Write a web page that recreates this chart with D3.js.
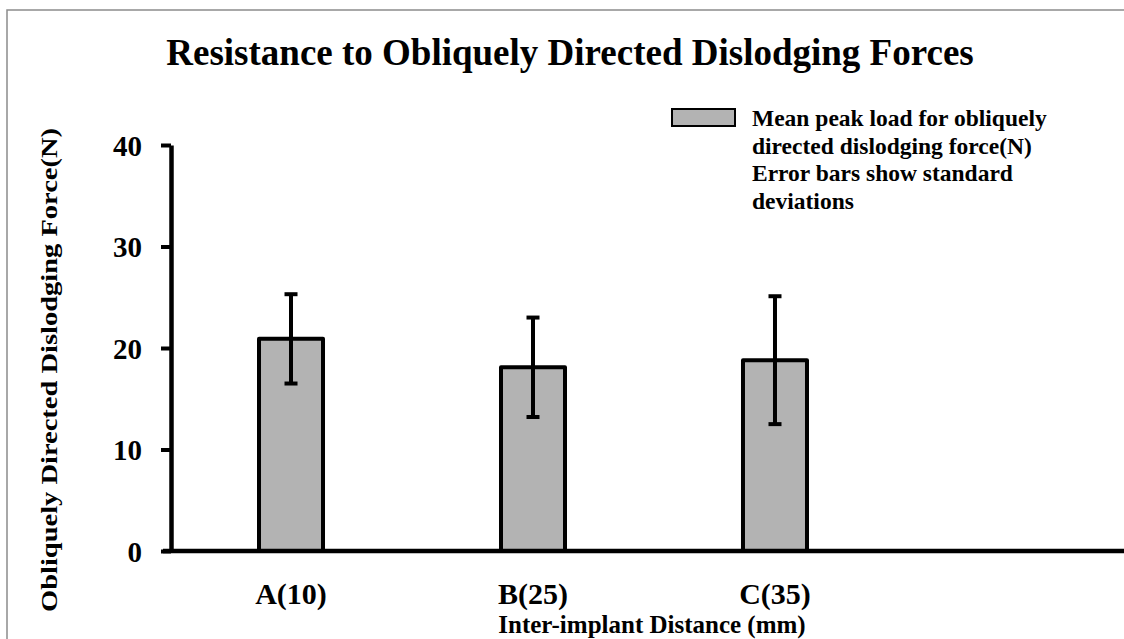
<!DOCTYPE html>
<html>
<head>
<meta charset="utf-8">
<script src="https://cdn.jsdelivr.net/npm/d3@7"></script>
<style>
  html, body { margin: 0; padding: 0; background: #fff; }
  svg { display: block; }
  text { font-family: "Liberation Serif", "Times New Roman", serif; font-weight: bold; fill: #000; }
</style>
</head>
<body>
<svg id="chart" width="1124" height="639"></svg>
<script>
const categories = ["A(10)", "B(25)", "C(35)"];
const means = [20.9, 18.1, 18.8];
const sds = [4.4, 4.9, 6.3];
const yTicks = [0, 10, 20, 30, 40];
const titleText = "Resistance to Obliquely Directed Dislodging Forces";
const xTitle = "Inter-implant Distance (mm)";
const yTitle = "Obliquely Directed Dislodging Force(N)";
const legendLines = ["Mean peak load for obliquely", "directed dislodging force(N)", "Error bars show standard", "deviations"];

const svg = d3.select("#chart");
const W = 1124, H = 639;

// border
svg.append("rect").attr("x", 7).attr("y", 10).attr("width", 1140).attr("height", 660)
  .attr("fill", "none").attr("stroke", "#8c8c8c").attr("stroke-width", 1.5);

const y = d3.scaleLinear().domain([0, 40]).range([551, 145]);
const x = d3.scaleBand().domain(categories).range([170, 896]).paddingInner(0.7355).paddingOuter(0.3678);

// title
svg.append("text").attr("x", 570).attr("y", 65).attr("text-anchor", "middle")
  .style("font-size", "37px").text(titleText);

// y axis
const yAxis = d3.axisLeft(y).tickValues(yTicks).tickSize(10).tickSizeOuter(0).tickPadding(19).tickFormat(d3.format("d"));
const gy = svg.append("g").attr("transform", "translate(171,0)").call(yAxis);
gy.select(".domain").attr("stroke", "#000").attr("stroke-width", 4.5);
gy.selectAll(".tick line").attr("stroke", "#000").attr("stroke-width", 4);
gy.selectAll(".tick text").style("font-size", "29px").style("font-family", "Liberation Serif, serif").style("font-weight", "bold").attr("dy", "0.36em");

// bars
svg.append("g").selectAll("rect").data(categories).join("rect")
  .attr("x", d => x(d)).attr("y", (d, i) => y(means[i]))
  .attr("width", x.bandwidth()).attr("height", (d, i) => y(0) - y(means[i]))
  .attr("fill", "#b3b3b3").attr("stroke", "#000").attr("stroke-width", 4).attr("stroke-linejoin", "round");

// x axis line
svg.append("line").attr("x1", 163).attr("x2", W + 5).attr("y1", y(0)).attr("y2", y(0))
  .attr("stroke", "#000").attr("stroke-width", 4.5);

// error bars
const eb = svg.append("g").selectAll("g").data(categories).join("g");
eb.append("line")
  .attr("x1", d => x(d) + x.bandwidth() / 2).attr("x2", d => x(d) + x.bandwidth() / 2)
  .attr("y1", (d, i) => y(means[i] + sds[i])).attr("y2", (d, i) => y(means[i] - sds[i]))
  .attr("stroke", "#000").attr("stroke-width", 4);
eb.append("line")
  .attr("x1", d => x(d) + x.bandwidth() / 2 - 6.5).attr("x2", d => x(d) + x.bandwidth() / 2 + 6.5)
  .attr("y1", (d, i) => y(means[i] + sds[i])).attr("y2", (d, i) => y(means[i] + sds[i]))
  .attr("stroke", "#000").attr("stroke-width", 4);
eb.append("line")
  .attr("x1", d => x(d) + x.bandwidth() / 2 - 6.5).attr("x2", d => x(d) + x.bandwidth() / 2 + 6.5)
  .attr("y1", (d, i) => y(means[i] - sds[i])).attr("y2", (d, i) => y(means[i] - sds[i]))
  .attr("stroke", "#000").attr("stroke-width", 4);

// x labels
svg.append("g").selectAll("text").data(categories).join("text")
  .attr("x", d => x(d) + x.bandwidth() / 2).attr("y", 604).attr("text-anchor", "middle")
  .style("font-size", "30px").text(d => d);

// x title
svg.append("text").attr("x", 652).attr("y", 633).attr("text-anchor", "middle")
  .style("font-size", "25px").text(xTitle);

// y title
svg.append("text").attr("transform", "translate(57,370) rotate(-90)").attr("text-anchor", "middle")
  .style("font-size", "24px").attr("textLength", 484).attr("lengthAdjust", "spacingAndGlyphs").text(yTitle);

// legend
svg.append("rect").attr("x", 672).attr("y", 109).attr("width", 63).attr("height", 17)
  .attr("fill", "#b3b3b3").attr("stroke", "#000").attr("stroke-width", 2);
svg.append("g").selectAll("text").data(legendLines).join("text")
  .attr("x", 752).attr("y", (d, i) => 126 + i * 27.5)
  .style("font-size", "23.5px").text(d => d);
</script>
</body>
</html>
